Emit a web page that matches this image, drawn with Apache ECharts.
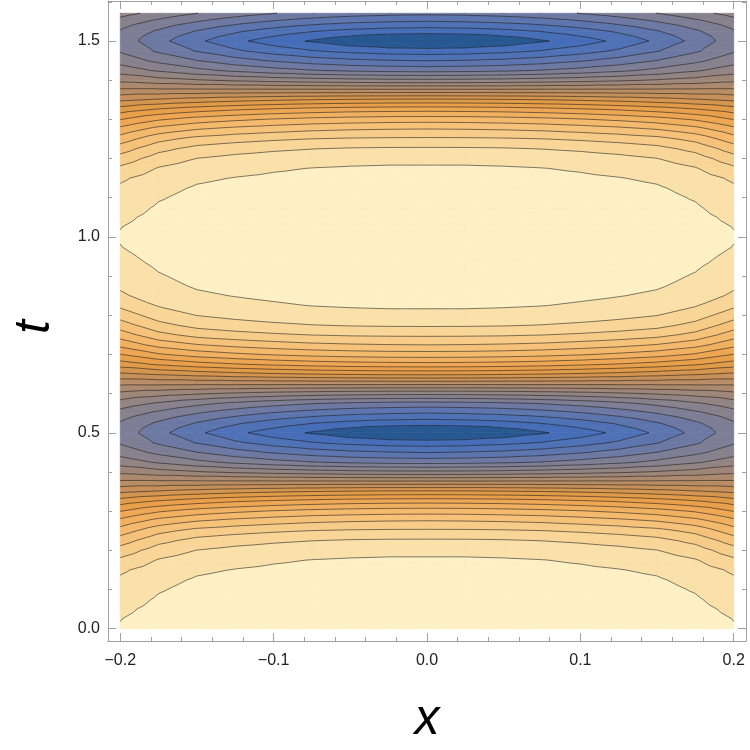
<!DOCTYPE html>
<html style="height: 100%">
<head>
<meta charset="utf-8">
</head>
<body style="height: 100%; margin: 0">
<div id="container" style="width: 750px; height: 750px"></div>
<script src="https://cdn.jsdelivr.net/npm/echarts@6.0.0/dist/echarts.min.js"></script>
<script>
// grid nodes (x columns, t rows)
var xNodes = [-0.2, -0.175, -0.15, -0.125, -0.1, -0.075, -0.05, -0.025, 0, 0.025, 0.05, 0.075, 0.1, 0.125, 0.15, 0.175, 0.2];
var tNodes = [0, 0.025, 0.05, 0.075, 0.1, 0.125, 0.15, 0.175, 0.2, 0.225, 0.25, 0.275, 0.3, 0.325, 0.35, 0.375,
  0.4, 0.425, 0.45, 0.475, 0.5, 0.525, 0.55, 0.575, 0.6, 0.625, 0.65, 0.675, 0.7, 0.725, 0.75, 0.775,
  0.8, 0.825, 0.85, 0.875, 0.9, 0.925, 0.95, 0.975, 1, 1.025, 1.05, 1.075, 1.1, 1.125, 1.15, 1.175,
  1.2, 1.225, 1.25, 1.275, 1.3, 1.325, 1.35, 1.375, 1.4, 1.425, 1.45, 1.475, 1.5, 1.525, 1.55, 1.5708];

// field values (contour-level units), one array per |x| column, listed along tNodes
var c000 = [22.9, 22.88, 22.82, 22.74, 22.63, 22.5, 22.33, 22.13, 21.74, 21.14, 20.17, 19.03, 17.56, 15.67, 13.22, 10.22, 7.25, 4.64, 2.97, 1.42, -0.3,
  1.42, 2.97, 4.64, 7.25, 10.22, 13.22, 15.67, 17.56, 19.03, 20.17, 21.14, 21.74, 22.13, 22.33, 22.5, 22.63, 22.74, 22.82, 22.88, 22.9,
  22.88, 22.82, 22.74, 22.63, 22.5, 22.33, 22.13, 21.74, 21.14, 20.17, 19.03, 17.56, 15.67, 13.22, 10.22, 7.25, 4.64, 2.97, 1.42, -0.3,
  1.42, 2.97, 4.25];
var c025 = [22.90, 22.88, 22.82, 22.74, 22.63, 22.50, 22.33, 22.13, 21.74, 21.13, 20.16, 18.99, 17.54, 15.64, 13.20, 10.22, 7.27, 4.69, 3.06, 1.49, -0.15,
  1.49, 3.06, 4.69, 7.27, 10.22, 13.20, 15.64, 17.54, 18.99, 20.16, 21.13, 21.74, 22.13, 22.33, 22.50, 22.63, 22.74, 22.82, 22.88, 22.90,
  22.88, 22.82, 22.74, 22.63, 22.50, 22.33, 22.13, 21.74, 21.13, 20.16, 18.99, 17.54, 15.64, 13.20, 10.22, 7.27, 4.69, 3.06, 1.49, -0.15,
  1.49, 3.06, 4.30];
var c050 = [22.88, 22.86, 22.80, 22.72, 22.61, 22.47, 22.30, 22.09, 21.69, 21.09, 20.12, 18.92, 17.45, 15.56, 13.13, 10.22, 7.34, 4.82, 3.22, 1.70, 0.30,
  1.70, 3.22, 4.82, 7.34, 10.22, 13.13, 15.56, 17.45, 18.92, 20.12, 21.09, 21.69, 22.09, 22.30, 22.47, 22.61, 22.72, 22.80, 22.86, 22.88,
  22.86, 22.80, 22.72, 22.61, 22.47, 22.30, 22.09, 21.69, 21.09, 20.12, 18.92, 17.45, 15.56, 13.13, 10.22, 7.34, 4.82, 3.22, 1.70, 0.30,
  1.70, 3.22, 4.45];
var c075 = [22.85, 22.83, 22.76, 22.68, 22.56, 22.43, 22.25, 22.02, 21.61, 20.98, 20.02, 18.80, 17.31, 15.41, 13.02, 10.22, 7.46, 5.05, 3.50, 2.05, 0.89,
  2.05, 3.50, 5.05, 7.46, 10.22, 13.02, 15.41, 17.31, 18.80, 20.02, 20.98, 21.61, 22.02, 22.25, 22.43, 22.56, 22.68, 22.76, 22.83, 22.85,
  22.83, 22.76, 22.68, 22.56, 22.43, 22.25, 22.02, 21.61, 20.98, 20.02, 18.80, 17.31, 15.41, 13.02, 10.22, 7.46, 5.05, 3.50, 2.05, 0.89,
  2.05, 3.50, 4.69];
var c100 = [22.80, 22.77, 22.70, 22.60, 22.48, 22.34, 22.15, 21.90, 21.46, 20.83, 19.85, 18.59, 17.09, 15.20, 12.87, 10.21, 7.62, 5.37, 3.90, 2.54, 1.49,
  2.54, 3.90, 5.37, 7.62, 10.21, 12.87, 15.20, 17.09, 18.59, 19.85, 20.83, 21.46, 21.90, 22.15, 22.34, 22.48, 22.60, 22.70, 22.77, 22.80,
  22.77, 22.70, 22.60, 22.48, 22.34, 22.15, 21.90, 21.46, 20.83, 19.85, 18.59, 17.09, 15.20, 12.87, 10.21, 7.62, 5.37, 3.90, 2.54, 1.49,
  2.54, 3.90, 5.03];
var c125 = [22.73, 22.70, 22.62, 22.51, 22.38, 22.23, 22.03, 21.74, 21.28, 20.62, 19.63, 18.34, 16.80, 14.93, 12.67, 10.21, 7.83, 5.77, 4.40, 3.16, 2.26,
  3.16, 4.40, 5.77, 7.83, 10.21, 12.67, 14.93, 16.80, 18.34, 19.63, 20.62, 21.28, 21.74, 22.03, 22.23, 22.38, 22.51, 22.62, 22.70, 22.73,
  22.70, 22.62, 22.51, 22.38, 22.23, 22.03, 21.74, 21.28, 20.62, 19.63, 18.34, 16.80, 14.93, 12.67, 10.21, 7.83, 5.77, 4.40, 3.16, 2.26,
  3.16, 4.40, 5.47];
var c150 = [22.64, 22.60, 22.50, 22.38, 22.24, 22.08, 21.87, 21.53, 21.02, 20.33, 19.34, 17.97, 16.44, 14.59, 12.42, 10.20, 8.09, 6.27, 5.02, 3.93, 3.20,
  3.93, 5.02, 6.27, 8.09, 10.20, 12.42, 14.59, 16.44, 17.97, 19.34, 20.33, 21.02, 21.53, 21.87, 22.08, 22.24, 22.38, 22.50, 22.60, 22.64,
  22.60, 22.50, 22.38, 22.24, 22.08, 21.87, 21.53, 21.02, 20.33, 19.34, 17.97, 16.44, 14.59, 12.42, 10.20, 8.09, 6.27, 5.02, 3.93, 3.20,
  3.93, 5.02, 6.01];
var c175 = [22.43, 22.39, 22.26, 22.10, 21.93, 21.76, 21.51, 21.07, 20.47, 19.70, 18.69, 17.39, 15.88, 14.13, 12.13, 10.20, 8.39, 6.86, 5.75, 4.84, 4.32,
  4.84, 5.75, 6.86, 8.39, 10.20, 12.13, 14.13, 15.88, 17.39, 18.69, 19.70, 20.47, 21.07, 21.51, 21.76, 21.93, 22.10, 22.26, 22.39, 22.43,
  22.39, 22.26, 22.10, 21.93, 21.76, 21.51, 21.07, 20.47, 19.70, 18.69, 17.39, 15.88, 14.13, 12.13, 10.20, 8.39, 6.86, 5.75, 4.84, 4.32,
  4.84, 5.75, 6.65];
var c200 = [22.05, 21.98, 21.80, 21.58, 21.36, 21.15, 20.83, 20.20, 19.43, 18.52, 17.48, 16.33, 14.97, 13.50, 11.80, 10.19, 8.74, 7.54, 6.59, 5.88, 5.60,
  5.88, 6.59, 7.54, 8.74, 10.19, 11.80, 13.50, 14.97, 16.33, 17.48, 18.52, 19.43, 20.20, 20.83, 21.15, 21.36, 21.58, 21.80, 21.98, 22.05,
  21.98, 21.80, 21.58, 21.36, 21.15, 20.83, 20.20, 19.43, 18.52, 17.48, 16.33, 14.97, 13.50, 11.80, 10.19, 8.74, 7.54, 6.59, 5.88, 5.60,
  5.88, 6.59, 7.38];
var columns = [c200, c175, c150, c125, c100, c075, c050, c025, c000, c025, c050, c075, c100, c125, c150, c175, c200];

var levels = [1, 2, 3, 4, 5, 6, 7, 8, 9, 10, 11, 12, 13, 14, 15, 16, 17, 18, 19, 20, 21, 22];
var bandColors = ['#285891', '#456db8', '#4f71b6', '#5d75ae', '#6d79a3', '#7d7e95', '#86818c', '#918483',
  '#9d8679', '#aa896f', '#b88c64', '#c6905a', '#d49550', '#e09a48', '#e99f4a', '#eea653', '#f1b060',
  '#f4b96b', '#f6c279', '#f7cc88', '#f9d698', '#fae0a9', '#fdf0c4'];

var xMajor = [-0.2, -0.1, 0, 0.1, 0.2];
var xMinor = [-0.2, -0.18, -0.16, -0.14, -0.12, -0.1, -0.08, -0.06, -0.04, -0.02, 0, 0.02, 0.04, 0.06, 0.08, 0.1, 0.12, 0.14, 0.16, 0.18, 0.2];
var tMajor = [0, 0.5, 1, 1.5];
var tMinor = [0, 0.1, 0.2, 0.3, 0.4, 0.5, 0.6, 0.7, 0.8, 0.9, 1, 1.1, 1.2, 1.3, 1.4, 1.5, 1.6];

var EPS = 1e-6;

var cells = [];
for (var i = 0; i < xNodes.length - 1; i++) {
  for (var j = 0; j < tNodes.length - 1; j++) {
    cells.push([xNodes[i], tNodes[j], i, j]);
  }
}

function node(i, j) {
  return { x: xNodes[i], t: tNodes[j], v: columns[i][j] };
}

function triangles(i, j) {
  var a = node(i, j), b = node(i + 1, j), c = node(i + 1, j + 1), d = node(i, j + 1);
  if (xNodes[i] < 0) return [[a, b, d], [b, c, d]];
  return [[a, b, c], [a, c, d]];
}

function clip(poly, L, keepAbove) {
  var out = [];
  for (var k = 0; k < poly.length; k++) {
    var p = poly[k], q = poly[(k + 1) % poly.length];
    var pin = keepAbove ? p.v >= L : p.v <= L;
    var qin = keepAbove ? q.v >= L : q.v <= L;
    if (pin) out.push(p);
    if (pin !== qin) {
      var r = (L - p.v) / (q.v - p.v);
      out.push({ x: p.x + r * (q.x - p.x), t: p.t + r * (q.t - p.t), v: L });
    }
  }
  return out;
}

function renderBands(params, api) {
  var tris = triangles(api.value(2), api.value(3));
  var children = [];
  tris.forEach(function (tri) {
    var vs = tri.map(function (p) { return p.v; });
    var lo = Math.max(0, Math.floor(Math.min.apply(null, vs)));
    var hi = Math.min(bandColors.length - 1, Math.floor(Math.max.apply(null, vs)));
    for (var b = lo; b <= hi; b++) {
      var poly = tri;
      if (b > 0) poly = clip(poly, b + EPS, true);
      if (b < bandColors.length - 1) poly = clip(poly, b + 1 + EPS, false);
      if (poly.length < 3) continue;
      children.push({
        type: 'polygon',
        shape: { points: poly.map(function (p) { return api.coord([p.x, p.t]); }) },
        style: { fill: bandColors[b], stroke: bandColors[b], lineWidth: 0.7 }
      });
    }
  });
  return { type: 'group', children: children };
}

function renderContours(params, api) {
  var tris = triangles(api.value(2), api.value(3));
  var children = [];
  tris.forEach(function (tri) {
    levels.forEach(function (level) {
      var L = level + EPS;
      var pts = [];
      for (var k = 0; k < 3; k++) {
        var p = tri[k], q = tri[(k + 1) % 3];
        if ((p.v - L) * (q.v - L) < 0) {
          var r = (L - p.v) / (q.v - p.v);
          pts.push(api.coord([p.x + r * (q.x - p.x), p.t + r * (q.t - p.t)]));
        }
      }
      if (pts.length === 2) {
        children.push({
          type: 'line',
          shape: { x1: pts[0][0], y1: pts[0][1], x2: pts[1][0], y2: pts[1][1] },
          style: { stroke: 'rgba(20,20,20,0.55)', lineWidth: 1 }
        });
      }
    });
  });
  return { type: 'group', children: children };
}

function fmt(v) {
  return (v < 0 ? '\u2212' : '') + Math.abs(v).toFixed(1);
}

var frameColor = '#a0a0a0';
var labelStyle = { color: '#222', fontSize: 16, fontFamily: 'Liberation Sans, Arial, sans-serif' };
var nameStyle = { color: '#000', fontSize: 50, fontStyle: 'italic', fontFamily: 'Liberation Sans, Arial, sans-serif' };

function axisSet(dim, pos, major, minor, withLabels) {
  var min = dim === 'x' ? -0.208 : -0.0314;
  var max = dim === 'x' ? 0.208 : 1.6022;
  var base = {
    type: 'value', min: min, max: max, position: pos, splitLine: { show: false }
  };
  var main = Object.assign({}, base, {
    axisLine: { show: true, onZero: false, lineStyle: { color: frameColor, width: 1 } },
    axisTick: { show: true, inside: true, length: 8, customValues: major, lineStyle: { color: frameColor } },
    axisLabel: withLabels
      ? Object.assign({ show: true, customValues: major, formatter: fmt, margin: dim === 'x' ? 12 : 8 }, labelStyle)
      : { show: false }
  });
  var sub = Object.assign({}, base, {
    axisLine: { show: false, onZero: false },
    axisTick: { show: true, inside: true, length: 4, customValues: minor, lineStyle: { color: frameColor } },
    axisLabel: { show: false }
  });
  return [main, sub];
}

var xAxes = axisSet('x', 'bottom', xMajor, xMinor, true).concat(axisSet('x', 'top', xMajor, xMinor, false));
var yAxes = axisSet('y', 'left', tMajor, tMinor, true).concat(axisSet('y', 'right', tMajor, tMinor, false));
Object.assign(xAxes[0], { name: 'x', nameLocation: 'middle', nameGap: 54, nameTextStyle: nameStyle });
Object.assign(yAxes[0], { name: 't', nameLocation: 'middle', nameGap: 48, nameRotate: 90,
  nameTextStyle: Object.assign({ padding: [0, 12, 0, 0] }, nameStyle) });

var myChart = echarts.init(document.getElementById('container'));
myChart.setOption({
  animation: false,
  backgroundColor: '#fff',
  grid: { left: 108, right: 4, top: 1, bottom: 108 },
  xAxis: xAxes,
  yAxis: yAxes,
  series: [{
    name: 'bands', type: 'custom', coordinateSystem: 'cartesian2d', xAxisIndex: 0, yAxisIndex: 0,
    silent: true, clip: true, encode: { x: 0, y: 1 }, renderItem: renderBands, data: cells
  }, {
    name: 'contours', type: 'custom', coordinateSystem: 'cartesian2d', xAxisIndex: 0, yAxisIndex: 0,
    silent: true, clip: true, encode: { x: 0, y: 1 }, renderItem: renderContours, data: cells
  }]
});
</script>
</body>
</html>
